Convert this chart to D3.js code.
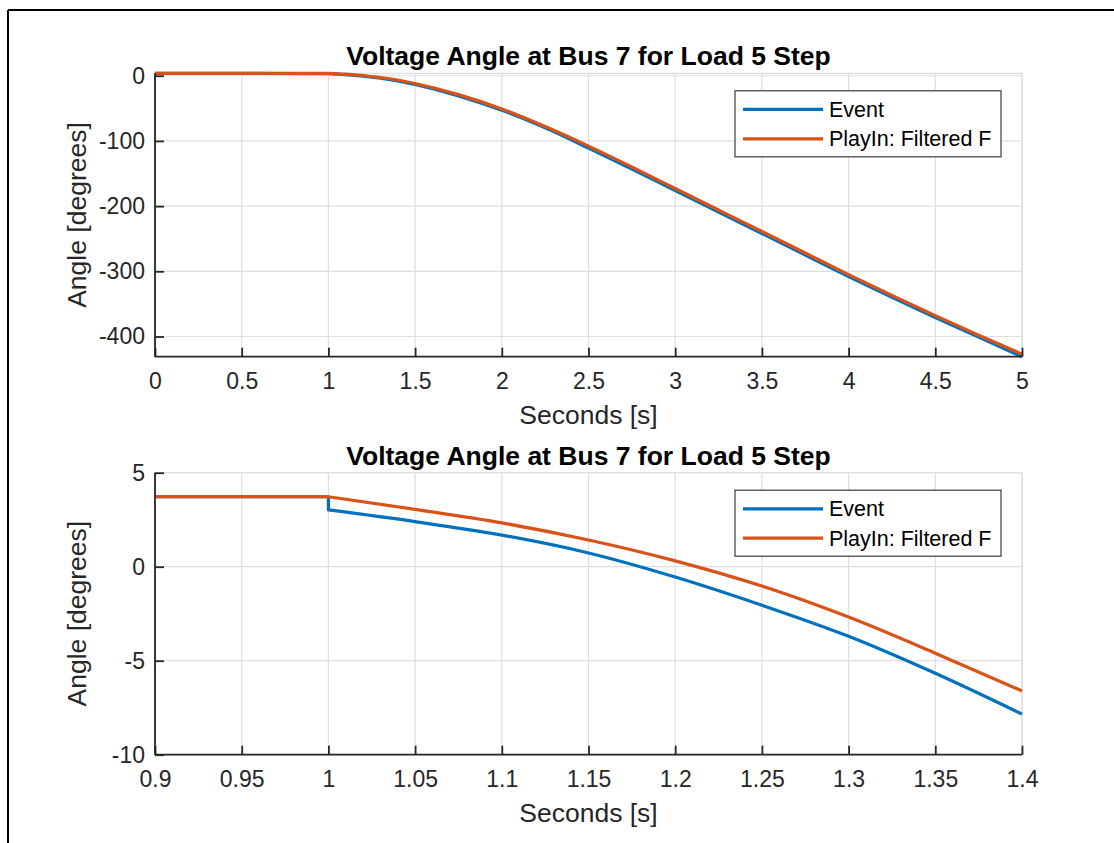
<!DOCTYPE html>
<html>
<head>
<meta charset="utf-8">
<script src="https://cdn.jsdelivr.net/npm/d3@7"></script>
<style>
  html, body { margin: 0; padding: 0; background: #fff; }
  svg { display: block; font-family: "Liberation Sans", Arial, Helvetica, sans-serif; }
</style>
</head>
<body>
<script>
// ---- Data ----
const titleText = "Voltage Angle at Bus 7 for Load 5 Step";
const xLabel = "Seconds [s]";
const yLabel = "Angle [degrees]";
const seriesNames = ["Event", "PlayIn: Filtered F"];
const stepTime = 1.0;

// Top panel (full 0-5 s)
const topTime    = [0, 0.5, 1.0, 1.1, 1.2, 1.3, 1.4, 1.5, 1.75, 2.0, 2.25, 2.5, 2.75, 3.0, 3.25, 3.5, 3.75, 4.0, 4.25, 4.5, 4.75, 5.0];
const topEvent   = [3.72, 3.72, 3.02, 1.68, -0.55, -3.7, -7.84, -13.5, -31, -53, -80, -111, -143, -176, -209, -242, -275, -308, -340, -371, -401, -431];
const topPlayIn  = [3.72, 3.72, 3.72, 2.33, 0.31, -2.68, -6.61, -12, -29, -51, -78, -108, -140, -173, -206, -239, -272, -305, -337, -368, -398, -427];
const topXTicks  = [0, 0.5, 1, 1.5, 2, 2.5, 3, 3.5, 4, 4.5, 5];
const topYTicks  = [0, -100, -200, -300, -400];

// Bottom panel (zoom 0.9-1.4 s)
const botTimeEvent  = [0.9, 0.95, 1.0, 1.0, 1.05, 1.1, 1.15, 1.2, 1.25, 1.3, 1.35, 1.4];
const botEvent      = [3.72, 3.72, 3.72, 3.02, 2.4, 1.68, 0.73, -0.55, -2.05, -3.7, -5.67, -7.84];
const botTimePlayIn = [0.9, 0.95, 1.0, 1.05, 1.1, 1.15, 1.2, 1.25, 1.3, 1.35, 1.4];
const botPlayIn     = [3.72, 3.72, 3.72, 3.05, 2.33, 1.42, 0.31, -1.03, -2.68, -4.6, -6.61];
const botXTicks  = [0.9, 0.95, 1, 1.05, 1.1, 1.15, 1.2, 1.25, 1.3, 1.35, 1.4];
const botYTicks  = [5, 0, -5, -10];

const colors = ["#0072BD", "#D95319"];

// ---- Drawing ----
const W = 1114, H = 843;
const svg = d3.select("body").append("svg").attr("width", W).attr("height", H);

// figure border (top and left)
svg.append("line").attr("x1", 8).attr("y1", 10).attr("x2", W).attr("y2", 10)
  .attr("stroke", "#000").attr("stroke-width", 2);
svg.append("line").attr("x1", 8).attr("y1", 10).attr("x2", 8).attr("y2", H)
  .attr("stroke", "#000").attr("stroke-width", 2);

const axL = 155, axR = 1022;
const tickFont = 23, labelFont = 26.5, titleFont = 26.5, legendFont = 21.5;
const axisColor = "#262626";

// split a series into runs: before the step (linear) and after it (smooth),
// with vertical jumps where a time value repeats
function runs(t, v) {
  const out = [];
  let cur = [];
  for (let k = 0; k < t.length; k++) {
    if (k > 0 && t[k] === t[k - 1]) { out.push(cur); cur = []; }
    cur.push([t[k], v[k]]);
    if (t[k] === stepTime && !(k + 1 < t.length && t[k + 1] === stepTime)) {
      out.push(cur); cur = [[t[k], v[k]]];
    }
  }
  if (cur.length) out.push(cur);
  return out.filter(r => r.length > 0);
}

function panel(cfg) {
  const x = d3.scaleLinear().domain(cfg.xDomain).range([axL, axR]);
  const y = d3.scaleLinear().domain(cfg.yDomain).range([cfg.bottom, cfg.top]);
  const g = svg.append("g");
  const gridC = "#dfdfdf";

  // grid
  g.selectAll(".gx").data(cfg.xTicks).enter().append("line")
    .attr("x1", d => x(d)).attr("x2", d => x(d))
    .attr("y1", cfg.top).attr("y2", cfg.bottom)
    .attr("stroke", gridC).attr("stroke-width", 1.2);
  g.selectAll(".gy").data(cfg.yTicks).enter().append("line")
    .attr("x1", axL).attr("x2", axR)
    .attr("y1", d => y(d)).attr("y2", d => y(d))
    .attr("stroke", gridC).attr("stroke-width", 1.2);
  g.append("line").attr("x1", axL).attr("x2", axR).attr("y1", cfg.top).attr("y2", cfg.top)
    .attr("stroke", gridC).attr("stroke-width", 1.2);
  g.append("line").attr("x1", axR).attr("x2", axR).attr("y1", cfg.top).attr("y2", cfg.bottom)
    .attr("stroke", gridC).attr("stroke-width", 1.2);

  // lines
  const lineGen = d3.line().x(d => x(d[0])).y(d => y(d[1])).curve(d3.curveMonotoneX);
  cfg.series.forEach((s, i) => {
    const rs = runs(s.t, s.v);
    let d = "";
    rs.forEach((r, j) => {
      let p = r.length > 1 ? lineGen(r) : `M${x(r[0][0])},${y(r[0][1])}`;
      if (j > 0) p = "L" + p.slice(1);
      d += p;
    });
    g.append("path").attr("d", d)
      .attr("fill", "none").attr("stroke", colors[i]).attr("stroke-width", 3.2)
      .attr("stroke-linejoin", "round");
  });

  // axes
  const xAxis = d3.axisBottom(x).tickValues(cfg.xTicks).tickSizeInner(-9).tickSizeOuter(0)
    .tickPadding(16).tickFormat(d => String(+d.toFixed(2)));
  const gx = g.append("g").attr("transform", `translate(0,${cfg.bottom})`).call(xAxis);
  const yAxis = d3.axisLeft(y).tickValues(cfg.yTicks).tickSizeInner(-9).tickSizeOuter(0)
    .tickPadding(10).tickFormat(d => String(d));
  const gy = g.append("g").attr("transform", `translate(${axL},0)`).call(yAxis);
  [gx, gy].forEach(a => {
    a.select(".domain").attr("stroke", axisColor).attr("stroke-width", 1.8);
    a.selectAll(".tick line").attr("stroke", axisColor).attr("stroke-width", 1.8);
    a.selectAll(".tick text").attr("fill", axisColor).style("font-size", tickFont + "px")
      .style("font-family", '"Liberation Sans", Arial, sans-serif');
  });
  gx.selectAll(".tick text").attr("dy", "0.71em");
  gy.select(".domain").attr("d", `M0,${cfg.top}V${cfg.bottom}`);
  gx.select(".domain").attr("d", `M${axL},0H${axR}`);

  // title
  g.append("text").attr("x", (axL + axR) / 2).attr("y", cfg.top - 8)
    .attr("text-anchor", "middle").attr("font-weight", "bold")
    .style("font-size", titleFont + "px").attr("fill", "#000").text(titleText);
  // x label
  g.append("text").attr("x", (axL + axR) / 2).attr("y", cfg.bottom + 67)
    .attr("text-anchor", "middle").style("font-size", labelFont + "px")
    .attr("fill", axisColor).text(xLabel);
  // y label
  const cy = (cfg.top + cfg.bottom) / 2;
  g.append("text").attr("transform", `translate(86,${cy}) rotate(-90)`)
    .attr("text-anchor", "middle").style("font-size", labelFont + "px")
    .attr("fill", axisColor).text(yLabel);

  // legend
  const lx = 735, ly = cfg.top + 17.5, lw = 266, lh = 66;
  const lg = g.append("g");
  lg.append("rect").attr("x", lx).attr("y", ly).attr("width", lw).attr("height", lh)
    .attr("fill", "#fff").attr("stroke", "#3a3a3a").attr("stroke-width", 1.2);
  seriesNames.forEach((name, i) => {
    const yy = ly + 18.6 + i * 29.4;
    lg.append("line").attr("x1", lx + 8).attr("x2", lx + 88).attr("y1", yy).attr("y2", yy)
      .attr("stroke", colors[i]).attr("stroke-width", 3.2);
    lg.append("text").attr("x", lx + 94).attr("y", yy).attr("dy", "0.35em")
      .style("font-size", legendFont + "px").attr("fill", "#000").text(name);
  });
}

panel({
  xDomain: [0, 5], yDomain: [-431, 3.72], top: 73.3, bottom: 356.7,
  xTicks: topXTicks, yTicks: topYTicks,
  series: [{t: topTime, v: topEvent}, {t: topTime, v: topPlayIn}]
});
panel({
  xDomain: [0.9, 1.4], yDomain: [-10, 5], top: 472.7, bottom: 754.7,
  xTicks: botXTicks, yTicks: botYTicks,
  series: [{t: botTimeEvent, v: botEvent}, {t: botTimePlayIn, v: botPlayIn}]
});
</script>
</body>
</html>
